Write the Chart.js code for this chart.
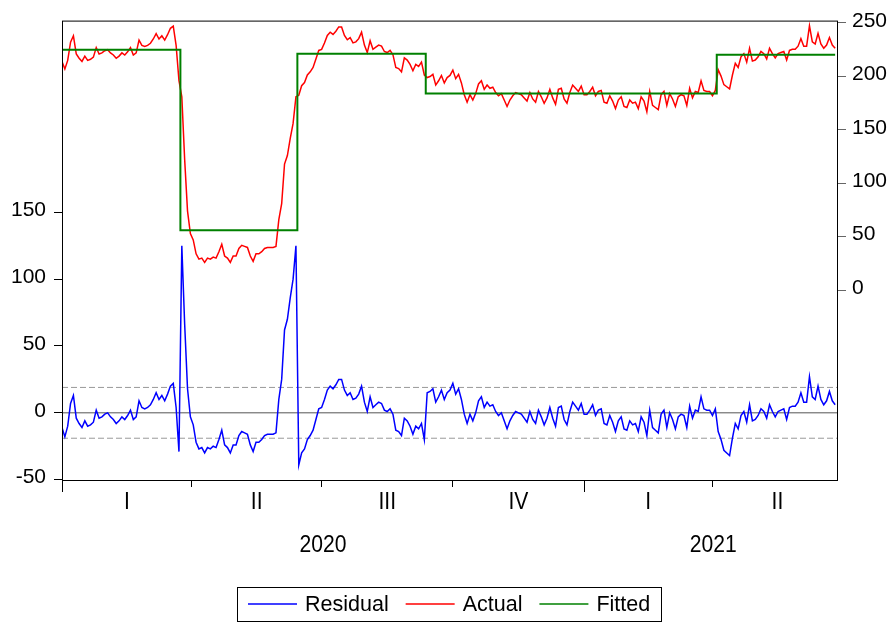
<!DOCTYPE html>
<html>
<head>
<meta charset="utf-8">
<script src="https://cdn.jsdelivr.net/npm/chart.js@4.4.1/dist/chart.umd.min.js"></script>
<style>
  html, body { margin: 0; padding: 0; background: #fff; }
  #wrap { width: 895px; height: 626px; }
</style>
</head>
<body>
<div id="wrap"><canvas id="chart" width="895" height="626"></canvas></div>
<script>
// Residual: one value every 2 days from 2020-01-01
const residual = [
  -11, -18, -10, 7, 13, -4, -8, -11, -6, -10,
  -9, -7, 2, -4, -3, -1, 0, -3, -5, -8,
  -6, -3, -5, -2, 2, -5, -3, 9, 4, 3,
  4, 6, 10, 15, 10, 13, 9, 14, 20, 22,
  4, -29,
  125, 66, 18, -3, -9, -22, -27, -26, -30, -26,
  -27, -25, -26, -20, -13, -24, -26, -30, -24, -24,
  -17, -14, -15, -16, -24, -29, -22, -22, -20, -17,
  -16, -16, -16, -15, 10, 25, 62, 70, 86, 100,
  125,
  -39, -30, -27, -20, -17, -13, -5, 3, 4, 10,
  17, 20, 18, 21, 25, 25, 17, 13, 15, 10,
  11, 14, 20, 8, 1, 12, 4, 6, 8, 7,
  2, 1, 3, -1, -13, -14, -17, -4, -6, -10,
  -16, -10, -12, -8, -20,
  15, 16, 18, 8, 12, 17, 10, 15, 17, 22,
  14, 18, 10, -1, -8, -1, -6, 0, 9, 12,
  4, 8, 5, 6, 1, -2, 0, -6, -12, -6,
  -2, 1, 0, -1, -4, -7, 1, -5, -8, 2,
  -3, -9, -4, 4, -4, -10, 4, 5, -5, -9,
  1, 8, 5, 2, 7, -1, -1, 2, 6, -2,
  2, 3, -8, -9, -2, -7, -14, -6, -3, -12,
  -13, -6, -9, -8, -14, -3, -7, -17, 2, -11,
  -13, -15, -1, 2, -11, 0, -5, -12, -3, -1,
  -2, -11, 5, -4, 2, 1, 12, 3, 2, 2,
  -2, 3,
  -14, -20, -28, -30, -32, -19, -8, -12, -2, 1,
  -7, 6, -6, -5, -2, 3, 1, -4, 6, 1,
  -3, 1, 2, 3, -5, 4, 5, 5, 8, 15,
  8, 8, 27, 12, 10, 20, 10, 6, 9, 16,
  9, 6
];
const dayStep = 2;

// Fitted is a step series: first day of each regime and its level
const fitStart = [0, 83, 165, 255, 459];
const fitLevel = [224.9, 55.9, 221.2, 183.8, 220.2];
const lastDay = 542;

// residual +/- 1 S.E. band
const bandSE = 19;

// x axis: quarter boundaries (days since 2020-01-01)
const quarterDays = [0, 91, 182, 274, 366, 456, 547];
const quarterLabels = ["I", "II", "III", "IV", "I", "II"];
const yearLabels = ["2020", "2021"];
const yearBounds = [0, 366, 547];

const leftTicks = [-50, 0, 50, 100, 150];
const rightTicks = [0, 50, 100, 150, 200, 250];

// Actual = Fitted + Residual
const fittedAt = d => {
  let v = fitLevel[0];
  fitStart.forEach((s, i) => { if (d >= s) v = fitLevel[i]; });
  return v;
};
const residPts = residual.map((r, i) => ({ x: i * dayStep, y: r }));
const actualPts = residual.map((r, i) => ({ x: i * dayStep, y: fittedAt(i * dayStep) + r }));
const fittedPts = fitStart.map((s, i) => ({ x: s, y: fitLevel[i] }))
  .concat([{ x: lastDay, y: fitLevel[fitLevel.length - 1] }]);
const hline = v => [{ x: 0, y: v }, { x: 544, y: v }];

const FONT = '"Liberation Sans", Arial, sans-serif';
const XFONT = '24px "Liberation Sans", Arial, sans-serif';

// narrow text like the EViews date axis
function narrowText(ctx, txt, x, y) {
  ctx.save();
  ctx.translate(x, y);
  ctx.scale(0.88, 1);
  ctx.fillText(txt, 0, 0);
  ctx.restore();
}

const decor = {
  id: "decor",
  afterDraw(chart) {
    const { ctx, chartArea: a, scales: { x } } = chart;
    ctx.save();
    ctx.strokeStyle = "#000";
    ctx.lineWidth = 1;
    ctx.strokeRect(a.left + 0.5, a.top + 0.5, a.right - a.left - 1, a.bottom - a.top - 1);

    // year boundaries get longer ticks
    [yearBounds[0], yearBounds[1]].forEach(d => {
      const px = Math.round(x.getPixelForValue(d)) + 0.5;
      ctx.beginPath();
      ctx.moveTo(px, a.bottom);
      ctx.lineTo(px, a.bottom + 11);
      ctx.stroke();
    });

    ctx.fillStyle = "#000";
    ctx.textAlign = "center";
    ctx.textBaseline = "middle";
    ctx.font = XFONT;
    quarterLabels.forEach((q, i) => {
      narrowText(ctx, q, x.getPixelForValue((quarterDays[i] + quarterDays[i + 1]) / 2), 502);
    });
    yearLabels.forEach((yr, i) => {
      narrowText(ctx, yr, x.getPixelForValue((yearBounds[i] + yearBounds[i + 1]) / 2), 545);
    });

    // legend box
    const items = chart.data.datasets.filter(d => d.inLegend);
    ctx.font = "21.5px " + FONT;
    ctx.textAlign = "left";
    let cx = 248;
    const ly = 604;
    items.forEach(d => {
      ctx.strokeStyle = d.borderColor;
      ctx.lineWidth = 1.5;
      ctx.beginPath();
      ctx.moveTo(cx, ly);
      ctx.lineTo(cx + 49, ly);
      ctx.stroke();
      cx += 57;
      ctx.fillText(d.label, cx, ly + 1);
      cx += ctx.measureText(d.label).width + 17;
    });
    ctx.strokeStyle = "#000";
    ctx.lineWidth = 1;
    ctx.strokeRect(237.5, 587.5, Math.round(cx - 17 + 11 - 237), 34);
    ctx.restore();
  }
};

new Chart(document.getElementById("chart"), {
  type: "line",
  data: {
    datasets: [
      { label: "Residual", inLegend: true, data: residPts, yAxisID: "y",
        borderColor: "#0000ff", borderWidth: 1.5, order: 2 },
      { label: "Actual", inLegend: true, data: actualPts, yAxisID: "y1",
        borderColor: "#ff0000", borderWidth: 1.5, order: 1 },
      { label: "Fitted", inLegend: true, data: fittedPts, yAxisID: "y1", stepped: "before",
        borderColor: "#008000", borderWidth: 2, order: 0 },
      { label: "zero", data: hline(0), yAxisID: "y", borderColor: "#555", borderWidth: 1, order: 3 },
      { label: "+se", data: hline(bandSE), yAxisID: "y", borderColor: "#999",
        borderWidth: 1, borderDash: [6, 3], order: 3 },
      { label: "-se", data: hline(-bandSE), yAxisID: "y", borderColor: "#999",
        borderWidth: 1, borderDash: [6, 3], order: 3 }
    ]
  },
  options: {
    responsive: false,
    animation: false,
    devicePixelRatio: 1,
    elements: { point: { radius: 0 }, line: { tension: 0, fill: false } },
    layout: { padding: { top: 18, left: 0, right: 0, bottom: 0 } },
    plugins: { legend: { display: false }, tooltip: { enabled: false } },
    scales: {
      x: {
        type: "linear", min: 0, max: 544, position: "bottom",
        afterFit: s => { s.height = 145; },
        afterBuildTicks: s => { s.ticks = quarterDays.slice(0, 6).map(v => ({ value: v })); },
        grid: { drawOnChartArea: false, tickLength: 6, color: "#000" },
        border: { display: false },
        ticks: { autoSkip: false, callback: () => "", font: { size: 1 } }
      },
      y: {
        position: "left", min: -51, max: 293.4,
        afterFit: s => { s.width = 62; },
        afterBuildTicks: s => { s.ticks = leftTicks.map(v => ({ value: v })); },
        grid: { drawOnChartArea: false, tickLength: 8, color: "#000" },
        border: { display: false },
        ticks: { color: "#000", padding: 8, labelOffset: -2, font: { family: FONT, size: 21 } }
      },
      y1: {
        position: "right", min: -178.6, max: 252.1,
        afterFit: s => { s.width = 57; },
        afterBuildTicks: s => { s.ticks = rightTicks.map(v => ({ value: v })); },
        grid: { drawOnChartArea: false, tickLength: 8, color: "#666" },
        border: { display: false },
        ticks: { color: "#000", padding: 6, labelOffset: -2, font: { family: FONT, size: 21 } }
      }
    }
  },
  plugins: [decor]
});
</script>
</body>
</html>
